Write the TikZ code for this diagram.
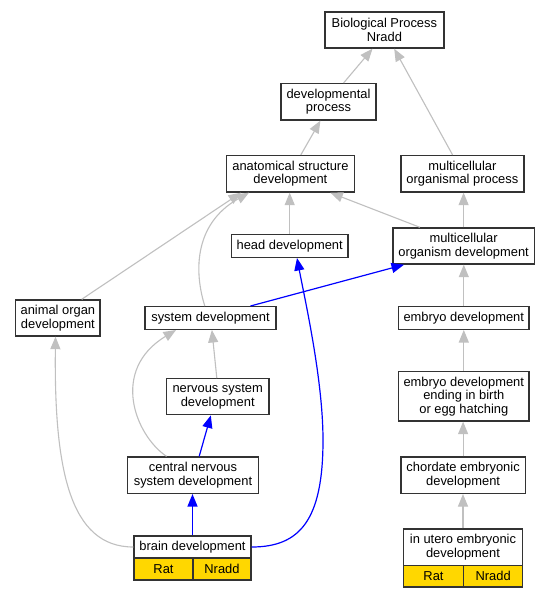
\documentclass[tikz,border=0pt]{standalone}
\usepackage{fontspec}
\setmainfont{Liberation Sans}
\usetikzlibrary{arrows.meta}
\definecolor{gedge}{HTML}{C0C0C0}
\definecolor{bedge}{HTML}{0000FF}
\definecolor{gold}{HTML}{FFD700}
\tikzset{
  box/.style={draw=black!80, line width=1.4pt, fill=white, inner sep=0pt, align=center,
    font=\fontsize{12.9}{13.6}\selectfont},
  cell/.style={box, fill=gold},
  gray edge/.style={draw=gedge, line width=1.1pt, -{Triangle[length=12.5pt,width=10pt,fill=gedge]}},
  blue edge/.style={draw=bedge, line width=1.2pt, -{Triangle[length=12.5pt,width=10pt,fill=bedge]}},
}
\begin{document}
\begin{tikzpicture}[x=1pt,y=-1pt]
\useasboundingbox[fill=white] (0,0) rectangle (551,597);
% nodes
\node[box, minimum width=118.8pt, minimum height=36pt] (bp) at (384.4,30) {Biological Process\\Nradd};
\node[box, minimum width=94.9pt, minimum height=36.3pt] (dp) at (328.5,101.8) {developmental\\process};
\node[box, minimum width=127.6pt, minimum height=36.3pt] (asd) at (290.4,173.8) {anatomical structure\\development};
\node[box, minimum width=123pt, minimum height=36.3pt] (mop) at (462.4,173.8) {multicellular\\organismal process};
\node[box, minimum width=116.3pt, minimum height=23pt] (head) at (289.7,245.8) {head development};
\node[box, minimum width=141.6pt, minimum height=36pt] (mod) at (463.6,246) {multicellular\\organism development};
\node[box, minimum width=84.3pt, minimum height=36pt] (aod) at (57.9,318) {animal organ\\development};
\node[box, minimum width=130.7pt, minimum height=22.6pt] (sysd) at (210.5,318) {system development};
\node[box, minimum width=130.7pt, minimum height=22.6pt] (embd) at (463.8,318) {embryo development};
\node[box, minimum width=102.9pt, minimum height=36pt] (nsd) at (217.7,396.7) {nervous system\\development};
\node[box, minimum width=130.7pt, minimum height=49.3pt] (eeb) at (463.8,396.3) {embryo development\\ending in birth\\or egg hatching};
\node[box, minimum width=131.1pt, minimum height=36.3pt] (cnsd) at (193,475.2) {central nervous\\system development};
\node[box, minimum width=124.4pt, minimum height=36.3pt] (chord) at (463.1,475.2) {chordate embryonic\\development};
\node[box, minimum width=117pt, minimum height=22pt] (brain) at (192.5,547) {brain development};
\node[cell, minimum width=59pt, minimum height=22pt] (brainrat) at (163.5,569) {Rat};
\node[cell, minimum width=58pt, minimum height=22pt] (brainnradd) at (222,569) {Nradd};
\node[box, minimum width=119.4pt, minimum height=36.3pt] (utero) at (463,547.15) {in utero embryonic\\development};
\node[cell, minimum width=60.4pt, minimum height=21.7pt] (uterorat) at (433.5,576.15) {Rat};
\node[cell, minimum width=59pt, minimum height=21.7pt] (uteronradd) at (493.2,576.15) {Nradd};
% gray edges
\draw[gray edge] ([xshift=15.1pt]dp.north) -- ([xshift=-11.9pt]bp.south);
\draw[gray edge] ([xshift=-9.8pt]mop.north) -- ([xshift=9.8pt]bp.south);
\draw[gray edge] ([xshift=10.4pt]asd.north) -- ([xshift=-8.1pt]dp.south);
\draw[gray edge] (mod.north) -- (mod.north |- mop.south);
\draw[gray edge] ([xshift=-43.7pt]mod.north) -- ([xshift=39.9pt]asd.south);
\draw[gray edge] (head.north) -- (head.north |- asd.south);
\draw[gray edge] ([xshift=23.8pt]aod.north) -- ([xshift=-49.4pt]asd.south);
\draw[gray edge] ([xshift=-5.7pt]sysd.north) .. controls (195,275) and (192,225) .. ([xshift=-41.4pt]asd.south);
\draw[gray edge] (embd.north) -- (embd.north |- mod.south);
\draw[gray edge] ([xshift=-0.9pt]nsd.north) -- ([xshift=1.4pt]sysd.south);
\draw[gray edge] ([xshift=-26.5pt]cnsd.north) .. controls (135,435) and (110,370) .. ([xshift=-34.5pt]sysd.south);
\draw[gray edge] (brain.west) .. controls (70,547) and (54,470) .. ([xshift=-2.4pt]aod.south);
\draw[gray edge] (eeb.north) -- (eeb.north |- embd.south);
\draw[gray edge] (chord.north) -- (chord.north |- eeb.south);
\draw[gray edge] (utero.north) -- (utero.north |- chord.south);
% blue edges
\draw[blue edge] ([xshift=40pt]sysd.north) -- ([xshift=-59.6pt]mod.south);
\draw[blue edge] (brain.east) .. controls (300,547) and (323,520) .. (323,440) .. controls (323,380) and (305,300) .. ([xshift=7.3pt]head.south);
\draw[blue edge] (brain.north) -- (brain.north |- cnsd.south);
\draw[blue edge] ([xshift=6.2pt]cnsd.north) -- ([xshift=-6.9pt]nsd.south);
\end{tikzpicture}
\end{document}
